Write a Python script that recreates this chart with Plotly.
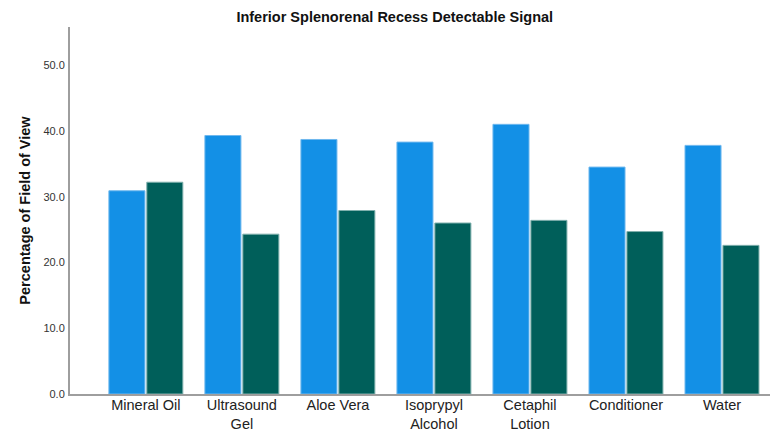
import plotly.graph_objects as go

categories = ["Mineral Oil", "Ultrasound<br>Gel", "Aloe Vera", "Isoprypyl<br>Alcohol",
              "Cetaphil<br>Lotion", "Conditioner", "Water"]
series_a = [30.9, 39.3, 38.7, 38.3, 41.0, 34.5, 37.8]
series_b = [32.2, 24.3, 27.9, 26.0, 26.4, 24.7, 22.6]
y_ticks = [0, 10, 20, 30, 40, 50]
y_tick_labels = ["0.0", "10.0", "20.0", "30.0", "40.0", "50.0"]

fig = go.Figure()
fig.add_trace(go.Bar(x=categories, y=series_a, name="A",
                     marker=dict(color="#1390e6", line=dict(color="#6fb8ee", width=1))))
fig.add_trace(go.Bar(x=categories, y=series_b, name="B",
                     marker=dict(color="#005f5a", line=dict(color="#7fb0ad", width=1))))

fig.update_layout(
    width=771, height=433,
    paper_bgcolor="white", plot_bgcolor="white",
    margin=dict(l=70, r=1, t=27, b=39),
    barmode="group", bargap=0.21, bargroupgap=0.05,
    showlegend=False,
    font=dict(family="Liberation Sans, Arial, sans-serif", color="#222"),
    title=dict(text="<b>Inferior Splenorenal Recess Detectable Signal</b>",
               x=0.512, xanchor="center", y=0.96, yanchor="middle",
               font=dict(size=14.5, color="#111")),
)
fig.update_xaxes(
    type="category", range=[-0.79, 6.5], automargin=False,
    showline=True, linecolor="#9e9e9e", linewidth=2, ticklabelstandoff=-3,
    showgrid=False, ticks="", tickfont=dict(size=14.5, color="#222"),
)
fig.update_yaxes(
    range=[0, 55.8], tickvals=y_ticks, ticktext=y_tick_labels, automargin=False,
    showline=True, linecolor="#9e9e9e", linewidth=2,
    showgrid=False, zeroline=False, ticks="", ticklabelstandoff=1,
    tickfont=dict(size=11, color="#333"),
    title=dict(text="<b>Percentage of Field of View</b>", font=dict(size=14.5, color="#111"), standoff=9),
)
fig.write_html("out.html", config={"displayModeBar": False},
               post_script="document.body.style.margin='0';document.body.style.overflow='hidden';")
